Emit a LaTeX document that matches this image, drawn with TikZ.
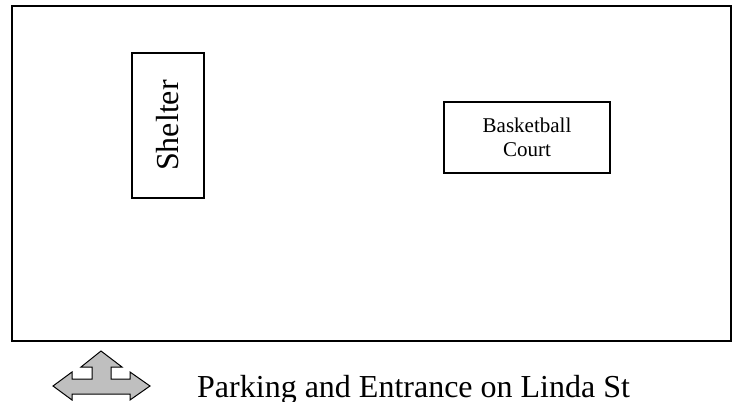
\documentclass[tikz,border=0pt]{standalone}
\usepackage{fontspec}
\setmainfont{Liberation Serif}
\usetikzlibrary{calc,positioning}

\begin{document}
\begin{tikzpicture}[x=1pt, y=-1pt, line join=miter,
					box/.style={draw, line width=2pt, inner sep=0pt},
					label/.style={font=\fontsize{21}{24}\selectfont, align=center}
				]
				\useasboundingbox (0,0) rectangle (737,402);
				% park outline
				\draw[line width=2pt] (12,6) rectangle (731,341);
				
				\node (shelter) [box, minimum width=72pt, minimum height=145pt] at (168,125.5) {};
				\node [rotate=90, font=\fontsize{32}{36}\selectfont] at (shelter.center) {Shelter};
				
				\node (court) [box, minimum width=166pt, minimum height=71pt] at (527,137.5) {};
				\node [label] at (court.center) {Basketball\\Court};
				
				% three way arrow
				\coordinate (arr) at (101,386);
				\draw[fill=black!25, line width=1pt] ($(arr)+(-48,0)$) -- ++(19,-14) -- ++(0,7) -- ++(20,0)
					-- ++(0,-12) -- ++(-11,0) -- ++(20,-16) -- ++(21,16) -- ++(-11,0) -- ++(0,12)
					-- ++(19,0) -- ++(0,-7) -- ++(20,14) -- ++(-20,14) -- ++(0,-6) -- ++(-58,0)
					-- ++(0,6) -- cycle;
				
				\node (entrance) [anchor=base west, inner sep=0pt, font=\fontsize{32}{36}\selectfont]
					at ($(arr)+(96,11)$) {Parking and Entrance on Linda St};
			\end{tikzpicture}
\end{document}
